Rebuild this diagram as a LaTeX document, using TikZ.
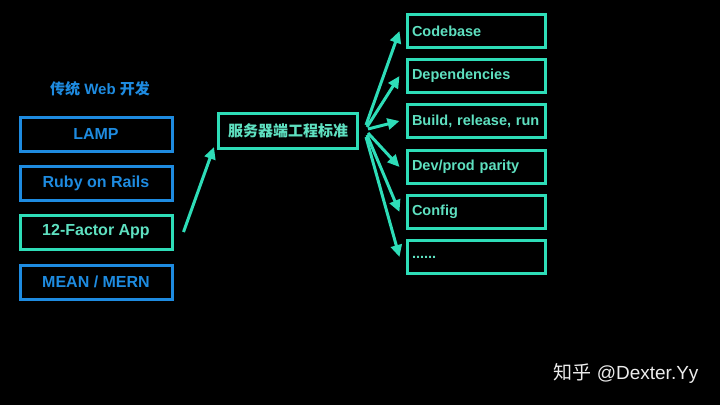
\documentclass[tikz,border=0pt]{standalone}
\usepackage{fontspec}
\setmainfont{Liberation Sans}
\newfontfamily\cjk{Noto Sans CJK SC}
\usetikzlibrary{arrows.meta}
\definecolor{bl}{HTML}{1E8BE0}
\definecolor{tl}{HTML}{2EDDB8}
\definecolor{tltext}{HTML}{5EE0C0}
\begin{document}
\begin{tikzpicture}[x=1pt,y=-1pt,
  bbox/.style={draw=bl,line width=3pt,text=bl,minimum width=152pt,minimum height=34pt,font=\bfseries\fontsize{16}{16}\selectfont},
  tbox/.style={bbox,draw=tl,text=tltext},
  rbox/.style={draw=tl,line width=3pt,text=tltext,minimum width=138pt,minimum height=33pt,text width=128pt,align=left,font=\bfseries\fontsize{14.5}{14.5}\selectfont},
  arr/.style={draw=tl,line width=3pt,-{Triangle[length=12pt,width=11pt]}}]
\fill[black] (0,0) rectangle (720,405);
\useasboundingbox (0,0) rectangle (720,405);
\node[text=bl,font=\bfseries\fontsize{15}{15}\selectfont] (title) at (100,89) {{\cjk\bfseries 传统} Web {\cjk\bfseries 开发}};
\node[bbox] (lamp) at (96,134) {LAMP};
\node[bbox] (ruby) at (96,183) {Ruby on Rails};
\node[tbox] (fac) at (96,232) {12-Factor App};
\node[bbox] (mean) at (96,282) {MEAN / MERN};
\node[draw=tl,line width=3pt,text=tltext,minimum width=139pt,minimum height=35pt,font=\cjk\bfseries\fontsize{15}{15}\selectfont] (std) at (288,131) {服务器端工程标准};
\node[rbox] (r1) at (476,31) {Codebase};
\node[rbox] (r2) at (476,76) {Dependencies};
\node[rbox] (r3) at (476,121) {Build, release, run};
\node[rbox] (r4) at (476,167) {Dev/prod parity};
\node[rbox] (r5) at (476,212) {Config};
\node[rbox] (r6) at (476,257) {......};
\coordinate (s) at (362,131);
\draw[arr] (fac.east)++(10,0) -- ([xshift=-3pt,yshift=3pt]std.south west);
\draw[arr] ([shift={(4,-6)}]s) -- ([shift={(-6,0)}]r1.west);
\draw[arr] ([shift={(5,-4)}]s) -- ([shift={(-6,0)}]r2.west);
\draw[arr] ([shift={(6,-2)}]s) -- ([shift={(-6,0)}]r3.west);
\draw[arr] ([shift={(6,2)}]s) -- ([shift={(-6,0)}]r4.west);
\draw[arr] ([shift={(5,4)}]s) -- ([shift={(-6,0)}]r5.west);
\draw[arr] ([shift={(4,6)}]s) -- ([shift={(-6,0)}]r6.west);
\node[text=white!85!gray,font=\fontsize{19}{19}\selectfont,anchor=east] (wm) at (702,373) {{\cjk 知乎} @Dexter.Yy};
\end{tikzpicture}
\end{document}
